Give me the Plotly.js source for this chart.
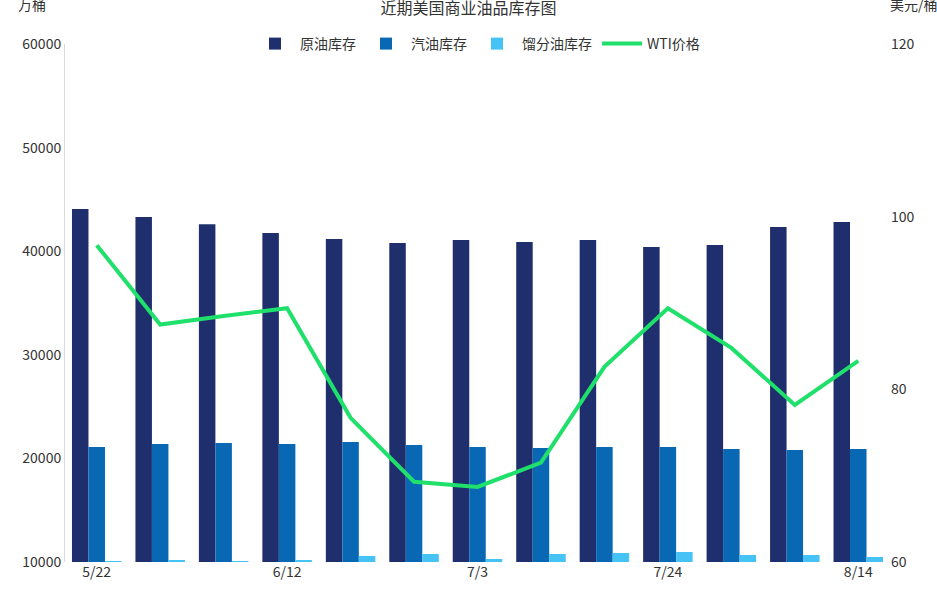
<!DOCTYPE html>
<html>
<head>
<meta charset="utf-8">
<script src="https://cdn.plot.ly/plotly-3.0.1.min.js"></script>
<style>body{margin:0}#chart{width:937px;height:601px}</style>
</head>
<body>
<div id="chart"></div>
<script>
const dates = ['5/22','5/29','6/5','6/12','6/19','6/26','7/3','7/10','7/17','7/24','7/31','8/7','8/14'];
const tickDates = ['5/22','6/12','7/3','7/24','8/14'];
const crude = [44070, 43300, 42600, 41760, 41180, 40790, 41080, 40890, 41080, 40400, 40600, 42340, 42820];
const gasoline = [21100, 21390, 21490, 21390, 21580, 21290, 21100, 21000, 21100, 21100, 20900, 20810, 20900];
const distillate = [10100, 10200, 10100, 10200, 10580, 10770, 10290, 10770, 10870, 10970, 10680, 10680, 10480];
const wti = [96.7, 87.5, 88.5, 89.4, 76.7, 69.3, 68.7, 71.5, 82.6, 89.4, 84.8, 78.2, 83.3];

const font = {family: '"Noto Sans CJK SC", "Noto Sans", sans-serif', size: 14, color: '#333'};

const traces = [
  {x: dates, y: crude, type: 'bar', name: '原油库存', marker: {color: '#1f2f6e'}},
  {x: dates, y: gasoline, type: 'bar', name: '汽油库存', marker: {color: '#0868b4'}},
  {x: dates, y: distillate, type: 'bar', name: '馏分油库存', marker: {color: '#45c3f5'}},
  {x: dates, y: wti, type: 'scatter', mode: 'lines', name: 'WTI价格', yaxis: 'y2',
   line: {color: '#1ee06a', width: 4}}
];

const layout = {
  width: 937, height: 601,
  margin: {l: 65, r: 47, t: 44, b: 39},
  paper_bgcolor: '#fff', plot_bgcolor: '#fff',
  font: font,
  title: {text: '近期美国商业油品库存图', x: 0.5, y: 0.995, yanchor: 'top', font: {size: 16, color: '#333'}},
  barmode: 'group', bargap: 0.22, bargroupgap: 0,
  showlegend: true,
  legend: {orientation: 'h', x: 0.5, xanchor: 'center', y: 1.0, yanchor: 'middle', font: {size: 14},
           itemwidth: 40, bgcolor: 'rgba(0,0,0,0)'},
  xaxis: {type: 'category', tickvals: tickDates, ticktext: tickDates, showgrid: false,
          showline: false, ticks: '', tickfont: {size: 14}},
  yaxis: {range: [10000, 60000], dtick: 10000, tickformat: 'd', showgrid: false, zeroline: false,
          showline: true, linecolor: '#d9d9d9', ticks: '', tickfont: {size: 14}},
  yaxis2: {range: [60, 120], dtick: 20, overlaying: 'y', side: 'right', showgrid: false,
           zeroline: false, ticks: '', tickfont: {size: 14}},
  annotations: [
    {text: '万桶', xref: 'paper', yref: 'paper', x: -0.06, y: 1.055, xanchor: 'left', yanchor: 'bottom', showarrow: false, font: {size: 14}},
    {text: '美元/桶', xref: 'paper', yref: 'paper', x: 1.06, y: 1.055, xanchor: 'right', yanchor: 'bottom', showarrow: false, font: {size: 14}}
  ]
};

Plotly.newPlot('chart', traces, layout, {displayModeBar: false});
</script>
</body>
</html>
